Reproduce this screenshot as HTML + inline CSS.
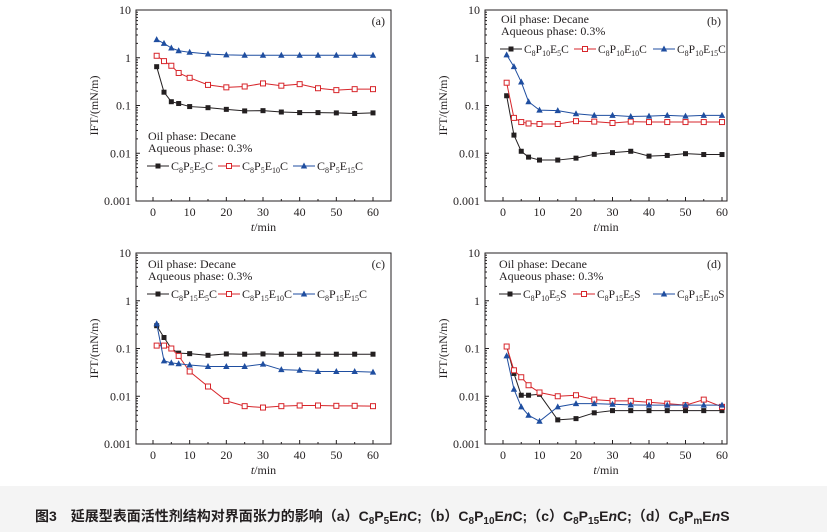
<!DOCTYPE html>
<html><head><meta charset="utf-8"><style>
html,body{margin:0;padding:0;background:#fff;width:827px;height:532px;overflow:hidden}
svg text{font-family:"Liberation Serif",serif;fill:#231f20}
</style></head><body>
<svg id="s" width="827" height="532" xmlns="http://www.w3.org/2000/svg">
<rect x="0" y="486" width="827" height="46" fill="#f4f4f4"/>
<text x="35" y="521" style="font-family:'Liberation Sans','Noto Sans CJK SC',sans-serif;font-weight:bold;font-size:14px">图3　延展型表面活性剂结构对界面张力的影响（a）C<tspan font-size="10" dy="3">8</tspan><tspan dy="-3">P</tspan><tspan font-size="10" dy="3">5</tspan><tspan dy="-3">E</tspan><tspan font-style="italic">n</tspan>C;（b）C<tspan font-size="10" dy="3">8</tspan><tspan dy="-3">P</tspan><tspan font-size="10" dy="3">10</tspan><tspan dy="-3">E</tspan><tspan font-style="italic">n</tspan>C;（c）C<tspan font-size="10" dy="3">8</tspan><tspan dy="-3">P</tspan><tspan font-size="10" dy="3">15</tspan><tspan dy="-3">E</tspan><tspan font-style="italic">n</tspan>C;（d）C<tspan font-size="10" dy="3">8</tspan><tspan dy="-3">P</tspan><tspan font-size="10" dy="3">m</tspan><tspan dy="-3">E</tspan><tspan font-style="italic">n</tspan>S</text>
</svg>
<script>
var S=document.getElementById('s'),NS='http://www.w3.org/2000/svg';
function el(t,a,txt){var e=document.createElementNS(NS,t);for(var k in a)e.setAttribute(k,a[k]);if(txt!=null)e.innerHTML=txt;S.appendChild(e);return e;}
var T=[1,3,5,7,10,15,20,25,30,35,40,45,50,55,60];
function panel(o){
 var L=o.L,R=o.R,top=o.top,bot=top+191,x0=o.x0,x60=o.x60;
 var X=function(t){return x0+(x60-x0)*t/60},Y=function(v){return top+(1-Math.log10(v))*(bot-top)/4};
 el('rect',{x:L,y:top,width:R-L,height:bot-top,fill:'none',stroke:'#231f20','stroke-width':1});
 [10,1,0.1,0.01,0.001].forEach(function(v,i){var y=Y(v);
  el('line',{x1:L,x2:L+4,y1:y,y2:y,stroke:'#231f20'});
  el('text',{x:L-5,y:y+4,'text-anchor':'end','font-size':12},String(v));
  if(v>0.001)for(var m=2;m<10;m++){var yy=Y(v/10*m);el('line',{x1:L,x2:L+2,y1:yy,y2:yy,stroke:'#231f20'});}
 });
 for(var t=0;t<=60;t+=10){var x=X(t);el('line',{x1:x,x2:x,y1:bot,y2:bot-4,stroke:'#231f20'});el('text',{x:x,y:bot+15,'text-anchor':'middle','font-size':12},t);}
 for(var t=5;t<60;t+=10){var x=X(t);el('line',{x1:x,x2:x,y1:bot,y2:bot-2,stroke:'#231f20'});}
 el('text',{x:(L+R)/2,y:bot+30,'text-anchor':'middle','font-size':12},'<tspan font-style="italic">t</tspan>/min');
 el('text',{x:0,y:0,'text-anchor':'middle','font-size':12,transform:'translate('+(L-38)+','+((top+bot)/2)+') rotate(-90)'},'IFT/(mN/m)');
 el('text',{x:R-6,y:top+15,'text-anchor':'end','font-size':12},o.lab);
 var cols=['#231f20','#d7262b','#1f4ea0'];
 o.d.forEach(function(arr,k){var pts=arr.map(function(v,i){return X(T[i])+','+Y(v)}).join(' ');
  el('polyline',{points:pts,fill:'none',stroke:cols[k],'stroke-width':1});
  arr.forEach(function(v,i){mk(k,X(T[i]),Y(v),cols[k]);});
 });
 el('text',{x:o.tx,y:o.ty,'font-size':12},'Oil phase: Decane');
 el('text',{x:o.tx,y:o.ty+12,'font-size':12},'Aqueous phase: 0.3%');
 var ly=o.ty+26;
 o.leg.forEach(function(g,k){var lx=o.lx[k];
  el('line',{x1:lx,x2:lx+22,y1:ly,y2:ly,stroke:cols[k]});mk(k,lx+11,ly,cols[k]);
  el('text',{x:lx+24,y:ly+4,'font-size':o.lf||12},g);
 });
}
function mk(k,x,y,c){
 if(k==0)el('rect',{x:x-2.5,y:y-2.5,width:5,height:5,fill:c});
 else if(k==1)el('rect',{x:x-2.5,y:y-2.5,width:5,height:5,fill:'#fff',stroke:c});
 else el('polygon',{points:(x)+','+(y-3.5)+' '+(x-3.2)+','+(y+2.5)+' '+(x+3.2)+','+(y+2.5),fill:c});
}
function sub(a,b,c){return 'C<tspan font-size="8" dy="3">8</tspan><tspan dy="-3">P</tspan><tspan font-size="8" dy="3">'+a+'</tspan><tspan dy="-3">E</tspan><tspan font-size="8" dy="3">'+b+'</tspan><tspan dy="-3">'+c+'</tspan>';}
panel({L:136,R:391,top:10,x0:153,x60:373,lab:'(a)',tx:148,ty:140,lx:[147,218,293],
 leg:[sub(5,5,'C'),sub(5,10,'C'),sub(5,15,'C')],
 d:[[0.65,0.19,0.12,0.11,0.095,0.09,0.083,0.077,0.078,0.073,0.071,0.071,0.07,0.068,0.07],
    [1.1,0.85,0.68,0.48,0.38,0.27,0.24,0.25,0.29,0.26,0.28,0.23,0.21,0.22,0.22],
    [2.4,2.0,1.6,1.4,1.3,1.2,1.15,1.13,1.13,1.13,1.13,1.13,1.13,1.13,1.13]]});
panel({L:485,R:727,top:10,x0:503,x60:722,lab:'(b)',tx:501,ty:23,lx:[500,574,653],lf:11.5,
 leg:[sub(10,5,'C'),sub(10,10,'C'),sub(10,15,'C')],
 d:[[0.16,0.024,0.011,0.0083,0.0072,0.0072,0.0079,0.0095,0.0103,0.011,0.0087,0.009,0.0098,0.0094,0.0094],
    [0.3,0.055,0.045,0.042,0.041,0.041,0.047,0.046,0.043,0.046,0.045,0.045,0.045,0.045,0.045],
    [1.15,0.65,0.31,0.12,0.08,0.078,0.067,0.062,0.062,0.059,0.06,0.062,0.06,0.062,0.062]]});
panel({L:136,R:391,top:253,x0:153,x60:373,lab:'(c)',tx:148,ty:268,lx:[147,218,293],
 leg:[sub(15,5,'C'),sub(15,10,'C'),sub(15,15,'C')],
 d:[[0.3,0.17,0.1,0.08,0.078,0.072,0.077,0.076,0.077,0.076,0.076,0.076,0.076,0.076,0.076],
    [0.115,0.115,0.1,0.07,0.033,0.016,0.008,0.0062,0.0058,0.0062,0.0064,0.0064,0.0063,0.0063,0.0062],
    [0.33,0.055,0.05,0.048,0.045,0.042,0.042,0.042,0.047,0.036,0.035,0.033,0.033,0.033,0.032]]});
panel({L:485,R:727,top:253,x0:503,x60:722,lab:'(d)',tx:499,ty:268,lx:[499,573,653],lf:11.5,
 leg:[sub(10,5,'S'),sub(15,5,'S'),sub(15,10,'S')],
 d:[[0.11,0.03,0.0105,0.0105,0.011,0.0032,0.0034,0.0045,0.005,0.005,0.005,0.005,0.005,0.005,0.005],
    [0.11,0.035,0.025,0.017,0.012,0.01,0.0105,0.0085,0.008,0.008,0.0075,0.007,0.0065,0.0085,0.006],
    [0.07,0.014,0.006,0.004,0.003,0.006,0.007,0.007,0.0068,0.0066,0.0065,0.0065,0.0065,0.0065,0.0065]]});
</script>
</body></html>
